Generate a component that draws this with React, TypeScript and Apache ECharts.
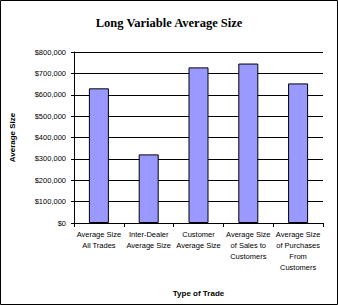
import React, { useEffect, useRef } from "react";
import * as echarts from "echarts";

const categories = [
  "Average Size\nAll Trades",
  "Inter-Dealer\nAverage Size",
  "Customer\nAverage Size",
  "Average Size\nof Sales to\nCustomers",
  "Average Size\nof Purchases\nFrom\nCustomers",
];
const values = [630000, 321000, 728000, 746000, 653000];
const yTicks = { min: 0, max: 800000, interval: 100000 };

export default function App() {
  const ref = useRef<HTMLDivElement>(null);
  useEffect(() => {
    document.body.style.margin = "0";
    const chart = echarts.init(ref.current!, null, { renderer: "svg" });
    const font = "'Liberation Sans', Arial, sans-serif";
    chart.setOption({
      animation: false,
      backgroundColor: "#ffffff",
      title: {
        text: "Long Variable Average Size",
        left: "center",
        top: 11,
        textStyle: {
          fontFamily: "'Liberation Serif', 'Times New Roman', serif",
          fontSize: 12.5,
          fontWeight: "bold",
          color: "#000",
        },
      },
      graphic: [
        {
          type: "rect",
          shape: { x: 0.5, y: 0.5, width: 337, height: 304 },
          style: { fill: "none", stroke: "#000", lineWidth: 1 },
          silent: true,
        },
      ],
      grid: { left: 71, right: 15, top: 52, bottom: 82 },
      xAxis: {
        type: "category",
        data: categories,
        name: "Type of Trade",
        nameLocation: "middle",
        nameGap: 66,
        nameTextStyle: { fontFamily: font, fontSize: 8, fontWeight: "bold", color: "#000" },
        axisLine: { lineStyle: { color: "#000", width: 1 } },
        axisTick: { show: true, length: 4, lineStyle: { color: "#000" } },
        axisLabel: {
          interval: 0,
          fontFamily: font,
          fontSize: 7.5,
          color: "#000",
          lineHeight: 11,
          margin: 6,
        },
      },
      yAxis: {
        type: "value",
        min: yTicks.min,
        max: yTicks.max,
        interval: yTicks.interval,
        name: "Average Size",
        nameLocation: "middle",
        nameGap: 58,
        nameTextStyle: { fontFamily: font, fontSize: 8, fontWeight: "bold", color: "#000" },
        axisLine: { show: true, lineStyle: { color: "#000", width: 1 } },
        axisTick: { show: true, length: 3, lineStyle: { color: "#000" } },
        splitLine: { show: true, lineStyle: { color: "#000", width: 1 } },
        axisLabel: {
          fontFamily: font,
          fontSize: 7.5,
          color: "#000",
          margin: 8,
          formatter: (v: number) => "$" + v.toLocaleString("en-US"),
        },
      },
      series: [
        {
          type: "bar",
          data: values,
          barWidth: 20,
          itemStyle: { color: "#9999FF", borderColor: "#000", borderWidth: 1 },
        },
      ],
    });
    return () => chart.dispose();
  }, []);
  return <div ref={ref} style={{ width: 338, height: 305 }} />;
}
